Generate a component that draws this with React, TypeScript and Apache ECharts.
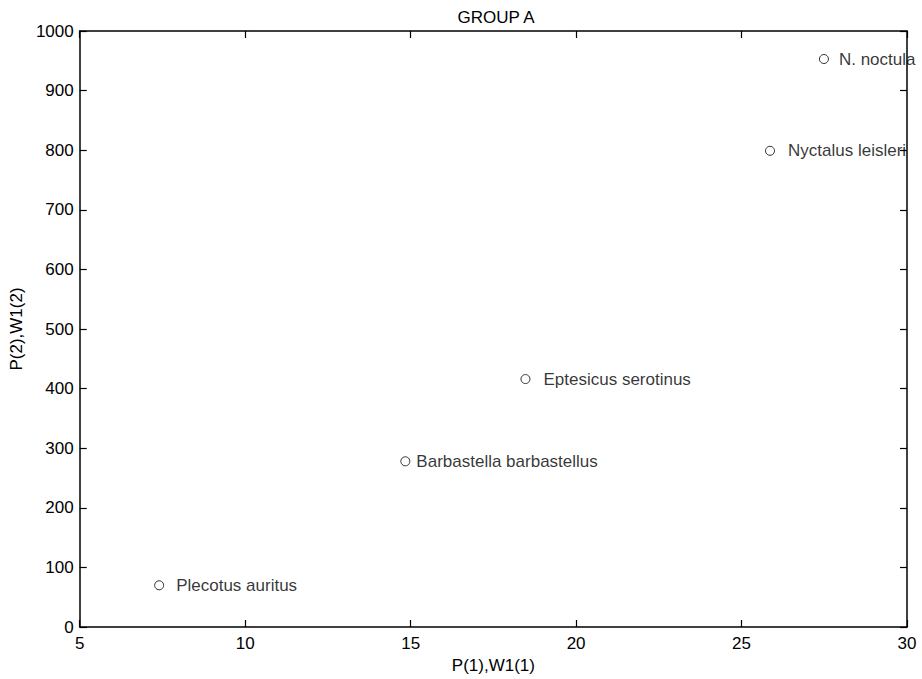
import React, { useEffect, useRef } from "react";
import * as echarts from "echarts";

const species = [
  "Plecotus auritus",
  "Barbastella barbastellus",
  "Eptesicus serotinus",
  "Nyctalus leisleri",
  "N. noctula",
];
const xValues = [7.4, 14.84, 18.47, 25.86, 27.49];
const yValues = [70, 278, 416, 799, 953];
const labelGaps = [12, 6, 13, 13, 10];
const xTicks = [5, 10, 15, 20, 25, 30];
const yTicks = [0, 100, 200, 300, 400, 500, 600, 700, 800, 900, 1000];

const FONT = "'Liberation Sans', Arial, Helvetica, sans-serif";
const FS = 17;

export default function App() {
  const ref = useRef<HTMLDivElement>(null);
  useEffect(() => {
    if (!ref.current) return;
    const chart = echarts.init(ref.current, null, { renderer: "svg" });
    const data = species.map((name, i) => ({
      name,
      value: [xValues[i], yValues[i]],
      label: { distance: labelGaps[i] },
    }));
    const axisCommon = {
      axisLine: { show: true, onZero: false, lineStyle: { color: "#000", width: 1.5 } },
      axisTick: { show: true, inside: true, length: 7, lineStyle: { color: "#000", width: 1.2 } },
      splitLine: { show: false },
    };
    chart.setOption({
      animation: false,
      backgroundColor: "#fff",
      title: {
        text: "GROUP A",
        left: 491,
        textAlign: "center",
        top: 4,
        textStyle: { fontFamily: FONT, fontSize: FS, fontWeight: "normal", color: "#000" },
      },
      grid: { left: 79, right: 15, top: 31, bottom: 52 },
      xAxis: [
        {
          type: "value",
          min: xTicks[0],
          max: xTicks[xTicks.length - 1],
          interval: 5,
          position: "bottom",
          name: "P(1),W1(1)",
          nameLocation: "middle",
          nameGap: 27,
          nameTextStyle: { fontFamily: FONT, fontSize: FS, color: "#000" },
          axisLabel: { fontFamily: FONT, fontSize: FS, color: "#000", margin: 8, formatter: (v: number) => String(v) },
          ...axisCommon,
        },
        {
          type: "value",
          min: xTicks[0],
          max: xTicks[xTicks.length - 1],
          interval: 5,
          position: "top",
          axisLabel: { show: false },
          ...axisCommon,
        },
      ],
      yAxis: [
        {
          type: "value",
          min: yTicks[0],
          max: yTicks[yTicks.length - 1],
          interval: 100,
          position: "left",
          name: "P(2),W1(2)",
          nameLocation: "middle",
          nameGap: 54,
          nameTextStyle: { fontFamily: FONT, fontSize: FS, color: "#000", padding: [0, 0, 0, 0] },
          axisLabel: { fontFamily: FONT, fontSize: FS, color: "#000", margin: 6, formatter: (v: number) => String(v) },
          ...axisCommon,
        },
        {
          type: "value",
          min: yTicks[0],
          max: yTicks[yTicks.length - 1],
          interval: 100,
          position: "right",
          axisLabel: { show: false },
          ...axisCommon,
        },
      ],
      series: [
        {
          type: "scatter",
          xAxisIndex: 0,
          yAxisIndex: 0,
          symbol: "circle",
          symbolSize: 9,
          itemStyle: { color: "#fff", borderColor: "#000", borderWidth: 1 },
          label: {
            show: true,
            position: "right",
            formatter: "{b}",
            fontFamily: FONT,
            fontSize: FS,
            color: "#000",
          },
          labelLayout: { hideOverlap: false },
          data,
          clip: false,
        },
      ],
    });
    return () => chart.dispose();
  }, []);
  return (
    <div
      ref={ref}
      style={{ position: "absolute", left: 0, top: 0, width: 922, height: 679 }}
    />
  );
}
